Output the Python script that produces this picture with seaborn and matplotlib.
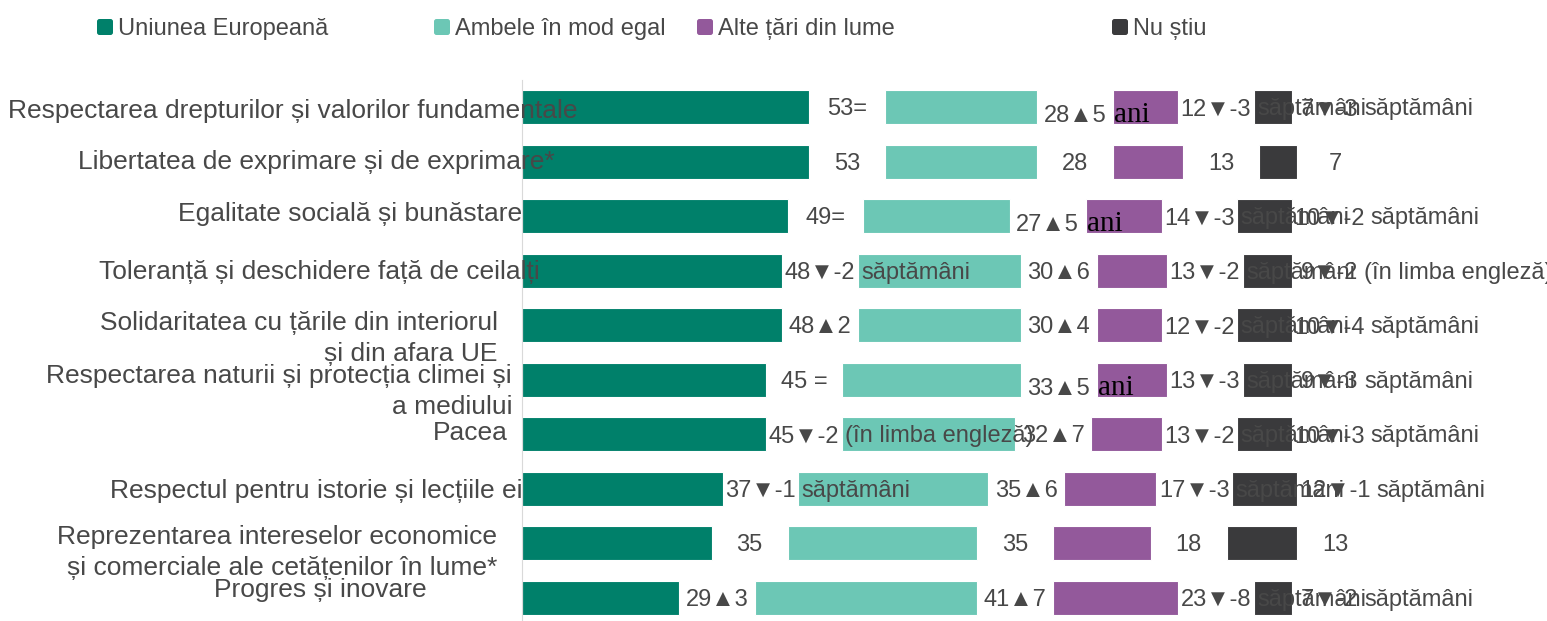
import numpy as np
import pandas as pd
import matplotlib.pyplot as plt
import seaborn as sns
from matplotlib.patches import FancyBboxPatch
from matplotlib.ticker import FixedLocator

# Data
categories = [
    "Respectarea drepturilor și valorilor fundamentale",
    "Libertatea de exprimare și de exprimare*",
    "Egalitate socială și bunăstare",
    "Toleranță și deschidere față de ceilalți",
    "Solidaritatea cu țările din interiorul\nși din afara UE",
    "Respectarea naturii și protecția climei și\na mediului",
    "Pacea",
    "Respectul pentru istorie și lecțiile ei",
    "Reprezentarea intereselor economice\nși comerciale ale cetățenilor în lume*",
    "Progres și inovare",
]
eu = [53, 53, 49, 48, 48, 45, 45, 37, 35, 29]
both = [28, 28, 27, 30, 30, 33, 32, 35, 35, 41]
other = [12, 13, 14, 13, 12, 13, 13, 17, 18, 23]
dont_know = [7, 7, 10, 9, 10, 9, 10, 12, 13, 7]

eu_change = ["=", "", "=", "▼-2", "▲2", " =", "▼-2", "▼-1", "", "▲3"]
both_change = ["▲5", "", "▲5", "▲6", "▲4", "▲5", "▲7", "▲6", "", "▲7"]
other_change = ["▼-3", "", "▼-3", "▼-2", "▼-2", "▼-3", "▼-2", "▼-3", "", "▼-8"]
dont_know_change = ["▼-3", "", "▼-2", "▼-2", "▼-4", "▼-3", "▼-3", "▼-1", "", "▼-2"]

# leftover words stuck to the change labels
eu_note = ["", "", "", "săptămâni", "", "", "(în limba engleză)", "săptămâni", "", ""]
both_note = ["ani", "", "ani", "", "", "ani", "", "", "", ""]
other_note = ["săptămâni", "", "săptămâni", "săptămâni", "săptămâni",
              "săptămâni", "săptămâni", "săptămâni", "", "săptămâni"]
dont_know_note = ["săptămâni", "", "săptămâni", "(în limba engleză)", "săptămâni",
                  "săptămâni", "săptămâni", "săptămâni", "", "săptămâni"]

series_names = ["Uniunea Europeană", "Ambele în mod egal", "Alte țări din lume", "Nu știu"]
colors = ["#00806a", "#6cc7b5", "#93599b", "#3a3a3c"]

# layout tweaks for the category labels (pixels)
label_right_px = [578, 555, 522, 540, 498, 512, 508, 522, 497, 427]
label_dy_px = [4, 0, -2, 1, 13, 12, -1, 2, 9, -8]

sns.set_style("white")
plt.rcParams['font.family'] = ['Liberation Sans', 'DejaVu Sans']
text_color = "#484848"
GAP = 14
PX = 5.42        # pixels per unit on x
ROW = 54.5       # pixels per row

df = pd.DataFrame({"category": categories, "eu": eu, "both": both,
                   "other": other, "dont_know": dont_know})

fig = plt.figure(figsize=(15.47, 6.21), dpi=100)
ax = fig.add_axes([522 / 1547, 1 - 625 / 621, 1025 / 1547, 545 / 621])

start = np.zeros(len(df))
for col, color, change, note in zip(["eu", "both", "other", "dont_know"], colors,
                                    [eu_change, both_change, other_change, dont_know_change],
                                    [eu_note, both_note, other_note, dont_know_note]):
    sns.barplot(data=df, x=col, y="category", left=start, color=color, saturation=1,
                width=0.62, edgecolor="white", linewidth=0.8, ax=ax)
    end = start + df[col].to_numpy()
    for i, (val, ch, nt) in enumerate(zip(df[col], change, note)):
        y = i + (9 if nt == "ani" else 2) / ROW
        main = ax.text(end[i] + GAP / 2, y, f"{val}{ch}", ha="center", va="center",
                       fontsize=17, color=text_color, zorder=5)
        if nt == "ani":
            ax.annotate(nt, xy=(1, 0), xycoords=main, xytext=(8, -1),
                        textcoords="offset pixels", ha="left", va="bottom",
                        fontsize=21, color="black", family="Liberation Serif", zorder=5)
        elif nt:
            ax.annotate(nt, xy=(1, 0), xycoords=main, xytext=(6, 0),
                        textcoords="offset pixels", ha="left", va="bottom",
                        fontsize=17, color=text_color, zorder=5)
    start = end + GAP

# category labels
for i, (lab, rx, dy) in enumerate(zip(categories, label_right_px, label_dy_px)):
    ax.text((rx - 522) / PX, i + dy / ROW, lab, ha="right", va="center",
            multialignment="right", linespacing=1.35, fontsize=19,
            color=text_color, zorder=6)

ax.set_xlim(0, 1025 / PX)
ax.set_ylim(9.5, -0.5)
ax.set_xlabel("")
ax.set_ylabel("")
ax.set_xticks([])
ax.yaxis.set_minor_locator(FixedLocator(np.arange(-0.5, 10, 1)))
ax.tick_params(axis="y", which="major", length=0, labelleft=False)
ax.tick_params(axis="y", which="minor", length=6, width=1, color="#d9d9d9")
for side in ["top", "right", "bottom"]:
    ax.spines[side].set_visible(False)
ax.spines["left"].set_color("#d9d9d9")
ax.set_facecolor("white")

# legend drawn by hand to keep the uneven spacing
legend_x_px = [97, 434, 697, 1112]
for name, color, lx in zip(series_names, colors, legend_x_px):
    fig.add_artist(FancyBboxPatch((lx / 100, (621 - 35) / 100), 0.16, 0.16,
                                  boxstyle="round,pad=0,rounding_size=0.025",
                                  transform=fig.dpi_scale_trans,
                                  facecolor=color, edgecolor="none"))
    fig.text((lx + 21) / 1547, 1 - 29 / 621, name, ha="left", va="center",
             fontsize=17, color=text_color)

plt.savefig("out.png", dpi=100)
